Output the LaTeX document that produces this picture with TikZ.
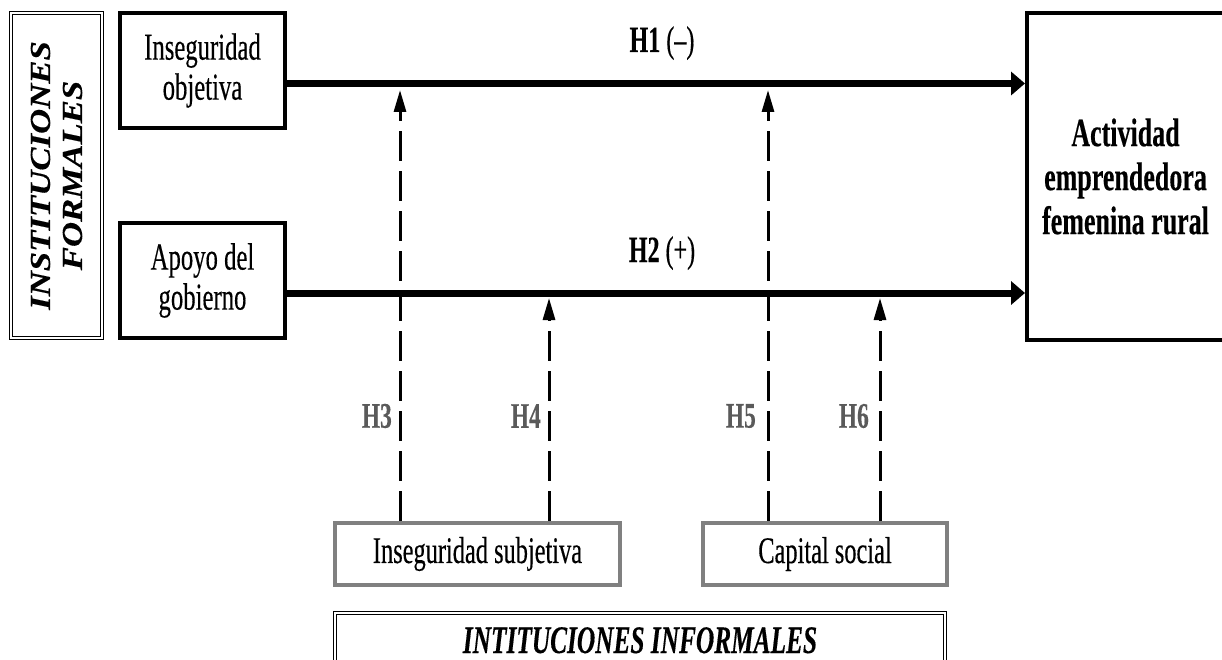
\documentclass[tikz,border=0pt]{standalone}
\usepackage{fontspec}
\setmainfont{Liberation Serif}
\newfontfamily\nf[FakeStretch=0.65,FakeBold=0.3]{Liberation Serif}
\newfontfamily\rf[FakeStretch=1.2,FakeBold=0.3]{Liberation Serif}
\usetikzlibrary{arrows.meta,calc}
\definecolor{boxgray}{RGB}{128,128,128}
\definecolor{labgray}{RGB}{90,90,90}
\begin{document}
\begin{tikzpicture}[x=1pt,y=-1pt,
  blkbox/.style={draw=black, line width=4pt, inner sep=0pt, align=center},
  graybox/.style={draw=boxgray, line width=4.5pt, inner sep=0pt},
  dblbox/.style={draw=black, double=white, double distance=2pt, line width=1pt, inner sep=0pt},
  mainarrow/.style={line width=7pt, -{Triangle[length=14pt,width=23pt]}},
  modarrow/.style={line width=3pt, dash pattern=on 30pt off 10pt, -{Triangle[length=22pt,width=12pt]}},
  regtxt/.style={font=\nf\fontsize{38}{40}\selectfont},
  boldtxt/.style={font=\nf\bfseries\fontsize{40}{44}\selectfont},
  hyptxt/.style={font=\nf\fontsize{37}{40}\selectfont, inner sep=0pt},
  hlab/.style={font=\nf\bfseries\fontsize{36}{40}\selectfont, text=labgray, inner sep=0pt},
  boxtxt/.style={font=\nf\fontsize{37.5}{40}\selectfont}
]
\useasboundingbox (0,0) rectangle (1222,660);

% left double box
\node[dblbox, minimum width=91pt, minimum height=325pt] (fi) at (56.5,175.5) {};
\node[rotate=90, align=center, inner sep=0pt, font=\rf\bfseries\itshape\fontsize{29}{32}\selectfont] (fitxt) at (fi.center) {INSTITUCIONES\\FORMALES};

% formal institution boxes
\node[blkbox, regtxt, minimum width=165pt, minimum height=115pt] (io) at (202.5,70.5) {Inseguridad\\objetiva};
\node[blkbox, regtxt, minimum width=165pt, minimum height=115pt] (ag) at (202.5,280.5) {Apoyo del\\gobierno};

% outcome box
\node[blkbox, boldtxt, minimum width=197pt, minimum height=327pt] (act) at (1125.5,176.5) {Actividad\\emprendedora\\femenina rural};

% informal boxes
\node[graybox, boxtxt, minimum width=285pt, minimum height=62pt] (is) at (477.5,554) {Inseguridad subjetiva};
\node[graybox, boxtxt, minimum width=244pt, minimum height=62pt] (cs) at (825,554) {Capital social};

% informal institutions box
\node[dblbox, minimum width=610pt, minimum height=100pt, anchor=north] (inf) at (640,612) {};
\node[anchor=base, inner sep=0pt, font=\nf\bfseries\itshape\fontsize{39}{42}\selectfont] (inftxt) at (640,653) {INTITUCIONES INFORMALES};

% main arrows
\draw[mainarrow] ([yshift=-13pt]io.east) -- ([yshift=-13pt]io.east -| act.west);
\draw[mainarrow] ([yshift=-12.5pt]ag.east) -- ([yshift=-12.5pt]ag.east -| act.west);

% hypothesis labels on main arrows
\node[hyptxt, anchor=base] (h1) at (662,52) {\textbf{H1} (–)};
\node[hyptxt, anchor=base] (h2) at (662,262) {\textbf{H2} (+)};

% moderator arrow tips
\coordinate (t3) at (400,90);
\coordinate (t4) at (549,298);
\coordinate (t5) at (768,90);
\coordinate (t6) at (880,298);

\draw[modarrow] (t3 |- is.north) -- (t3);
\draw[modarrow] (t4 |- is.north) -- (t4);
\draw[modarrow] (t5 |- cs.north) -- (t5);
\draw[modarrow] (t6 |- cs.north) -- (t6);

% moderator labels
\node[hlab, anchor=east] (h3) at (392,416) {H3};
\node[hlab, anchor=east] (h4) at (541,416) {H4};
\node[hlab, anchor=east] (h5) at (756,416) {H5};
\node[hlab, anchor=east] (h6) at (869,416) {H6};
\end{tikzpicture}
\end{document}
